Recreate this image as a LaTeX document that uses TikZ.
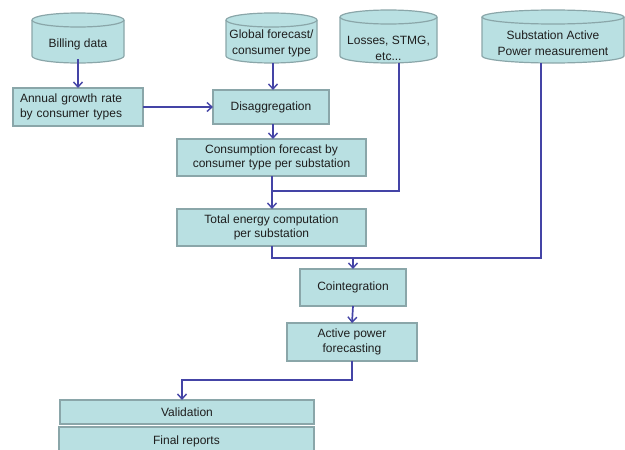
\documentclass[tikz,border=0pt]{standalone}
\usepackage{fontspec}
\setmainfont{Liberation Sans}
\usetikzlibrary{arrows.meta}
\definecolor{boxfill}{HTML}{B9E0E2}
\definecolor{boxdraw}{HTML}{8AA6A9}
\definecolor{flow}{HTML}{4444A6}
\definecolor{txt}{HTML}{1E1E1E}
\newcommand\dbcyl[5]{%
  \pgfmathsetmacro\cx{(#1+#2)/2}%
  \pgfmathsetmacro\rx{(#2-#1)/2}%
  \fill[boxfill] (#1,-#3-7) -- (#1,-#4+7) arc[start angle=180,end angle=360,x radius=\rx,y radius=7] -- (#2,-#3-7) arc[start angle=0,end angle=180,x radius=\rx,y radius=7] -- cycle;
  \draw[cylline] (#1,-#3-7) -- (#1,-#4+7) arc[start angle=180,end angle=360,x radius=\rx,y radius=7] -- (#2,-#3-7);
  \draw[cylline] (\cx,-#3-7) ellipse[x radius=\rx,y radius=7];
  \node[cyltext,minimum width=#2-#1,minimum height=#4-#3-14] (#5) at (\cx,{-(#3+#4)/2-3}) {};
}
\begin{document}
\begin{tikzpicture}[x=1pt,y=1pt,
  cylline/.style={draw=boxdraw,line width=1.2pt},
  cyltext/.style={inner sep=0pt,outer sep=0pt},
  procbox/.style={rectangle,draw=boxdraw,line width=1.4pt,fill=boxfill,inner sep=2pt,outer sep=0pt,align=center,text=txt,font=\fontsize{12}{14.6}\selectfont},
  flowline/.style={draw=flow,line width=1.7pt},
  flowarrow/.style={flowline,-{Straight Barb[length=5pt,width=9pt,line width=1.4pt]}},
  lbl/.style={text=txt,align=center,font=\fontsize{12}{16}\selectfont}]
\useasboundingbox (0,0) rectangle (625,-450);
% cylinders
\dbcyl{32}{124}{13}{63}{bill}
\dbcyl{226}{317}{13}{63}{glob}
\dbcyl{340}{437}{10}{63}{loss}
\dbcyl{482}{624}{10}{63}{subst}
\node[lbl] at (78,-44) {Billing data};
\node[lbl] at (271.5,-43) {Global forecast/\\consumer type};
\node[lbl] at (388.5,-48) {Losses, STMG,\\etc...};
\node[lbl] at (553,-43.5) {Substation Active\\Power measurement};
% boxes
\node[procbox,align=left,text width=116,minimum width=130,minimum height=38] (annual) at (78,-107) {Annual growth rate\\by consumer types};
\node[procbox,minimum width=116,minimum height=34] (disagg) at (271,-107) {Disaggregation};
\node[procbox,minimum width=189,minimum height=37] (cons) at (271.5,-157.5) {Consumption forecast by\\consumer type per substation};
\node[procbox,minimum width=189,minimum height=37] (total) at (271.5,-227.5) {Total energy computation\\per substation};
\node[procbox,minimum width=106,minimum height=37] (coint) at (353,-287.5) {Cointegration};
\node[procbox,minimum width=130,minimum height=38] (active) at (352,-342) {Active power\\forecasting};
\node[procbox,minimum width=254,minimum height=24] (valid) at (187,-412) {Validation};
\node[procbox,minimum width=255,minimum height=28] (final) at (186.5,-441) {Final reports};
% coordinates
\coordinate (lossout) at (399,-63);
\coordinate (substout) at (541,-63);
\coordinate (j1) at (272,-191);
\coordinate (j2) at (353,-258);
\coordinate (j3) at (352,-380);
% connectors
\draw[flowarrow] (bill.south -| annual.north) -- (annual.north);
\draw[flowarrow] (273,-63) -- (273,-90);
\draw[flowarrow] (annual.east) -- (disagg.west);
\draw[flowarrow] (273,-124) -- (273,-139);
\draw[flowarrow] (272,-176) -- (272,-209);
\draw[flowline] (lossout) |- (j1);
\draw[flowline] (272,-246) |- (substout |- j2) -- (substout);
\draw[flowarrow] (j2) -- (coint.north);
\draw[flowarrow] (coint.south) -- (active.north);
\draw[flowarrow] (active.south) -- (j3) -| (182,-400);
\end{tikzpicture}
\end{document}
